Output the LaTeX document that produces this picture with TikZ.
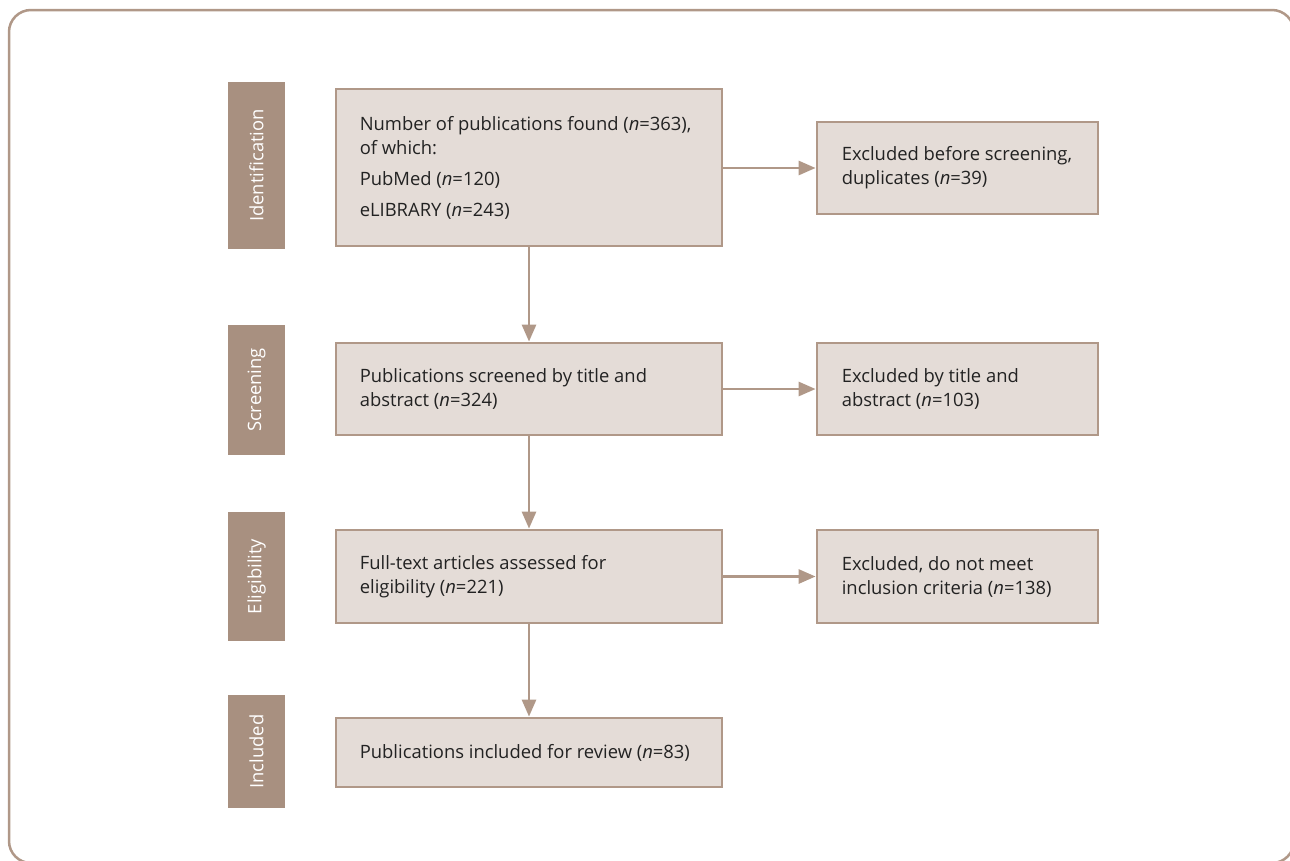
\documentclass[tikz,border=0pt]{standalone}
\usepackage{fontspec}
\setmainfont{Open Sans}
\usetikzlibrary{arrows.meta,positioning}
\definecolor{lab}{HTML}{A89080}
\definecolor{bfill}{HTML}{E4DCD7}
\definecolor{bline}{HTML}{B09888}
\definecolor{txtc}{HTML}{222222}
\begin{document}
\begin{tikzpicture}[x=1pt,y=-1pt,
  stagelab/.style={fill=lab,draw=none,minimum width=57pt,inner sep=0pt},
  stagetext/.style={text=white,rotate=90,font=\fontsize{18.4}{22}\selectfont},
  flowbox/.style={fill=bfill,draw=bline,line width=2.8pt,inner sep=0pt},
  boxtext/.style={anchor=west,align=left,text=txtc,inner sep=0pt,font=\fontsize{18.4}{24}\selectfont},
  conn/.style={draw=bline,line width=2.8pt,-{Triangle[length=17pt,width=14pt]}}
]
\useasboundingbox (0,0) rectangle (1290,860);
% outer frame
\draw[bline,line width=2.5pt,rounded corners=22pt] (9,10) rectangle (1294,863);

% stage labels
\node[stagelab,minimum height=167pt] (s1) at (256.5,165.5) {};
\node[stagetext] (s1t) at (s1.center) {Identification};
\node[stagelab,minimum height=130pt] (s2) at (256.5,390) {};
\node[stagetext] (s2t) at (s2.center) {Screening};
\node[stagelab,minimum height=129pt] (s3) at (256.5,576.5) {};
\node[stagetext] (s3t) at (s3.center) {Eligibility};
\node[stagelab,minimum height=113pt] (s4) at (256.5,751.5) {};
\node[stagetext] (s4t) at (s4.center) {Included};

% main boxes
\node[flowbox,minimum width=386pt,minimum height=157pt] (m1) at (529,167.5) {};
\node[boxtext] (m1t) at ([xshift=25pt]m1.west) {Number of publications found (\textit{n}=363),\\ of which:\\[7pt] PubMed (\textit{n}=120)\\[7pt] eLIBRARY (\textit{n}=243)};
\node[flowbox,minimum width=386pt,minimum height=92pt] (m2) at (529,389) {};
\node[boxtext] (m2t) at ([xshift=25pt]m2.west) {Publications screened by title and\\ abstract (\textit{n}=324)};
\node[flowbox,minimum width=386pt,minimum height=93pt] (m3) at (529,576.5) {};
\node[boxtext] (m3t) at ([xshift=25pt]m3.west) {Full-text articles assessed for\\ eligibility (\textit{n}=221)};
\node[flowbox,minimum width=386pt,minimum height=69pt] (m4) at (529,752.5) {};
\node[boxtext] (m4t) at ([xshift=25pt]m4.west) {Publications included for review (\textit{n}=83)};

% right boxes
\node[flowbox,minimum width=281pt,minimum height=92pt] (r1) at (957.5,168) {};
\node[boxtext] (r1t) at ([xshift=26pt]r1.west) {Excluded before screening,\\ duplicates (\textit{n}=39)};
\node[flowbox,minimum width=281pt,minimum height=92pt] (r2) at (957.5,389) {};
\node[boxtext] (r2t) at ([xshift=26pt]r2.west) {Excluded by title and\\ abstract (\textit{n}=103)};
\node[flowbox,minimum width=281pt,minimum height=93pt] (r3) at (957.5,576.5) {};
\node[boxtext] (r3t) at ([xshift=26pt]r3.west) {Excluded, do not meet\\ inclusion criteria (\textit{n}=138)};

% connectors
\draw[conn] (m1.south) -- (m2.north);
\draw[conn] (m2.south) -- (m3.north);
\draw[conn] (m3.south) -- (m4.north);
\draw[conn] (m1.east |- r1.west) -- (r1.west);
\draw[conn] (m2.east |- r2.west) -- (r2.west);
\draw[conn] (m3.east |- r3.west) -- (r3.west);
\end{tikzpicture}
\end{document}
